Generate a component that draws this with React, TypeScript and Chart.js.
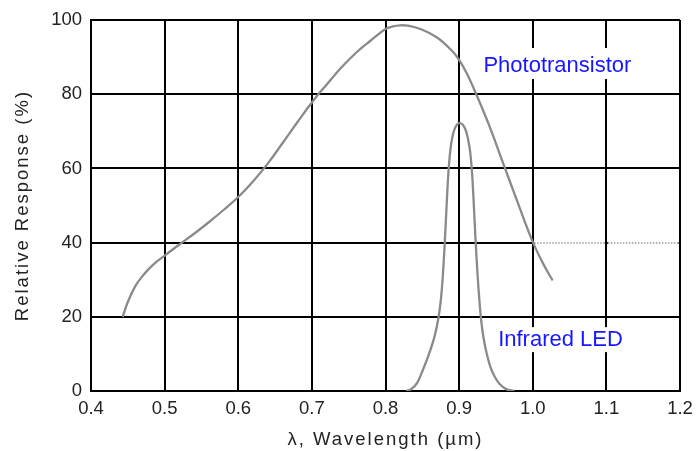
import React, { useEffect, useRef } from 'react';
import { Chart, registerables } from 'chart.js';

Chart.register(...registerables);

// ---- Data ----
const phototransistorX = [0.443, 0.45, 0.46, 0.47, 0.48, 0.49, 0.5, 0.52, 0.54, 0.56, 0.58, 0.6, 0.62, 0.64, 0.66, 0.68, 0.7, 0.72, 0.74, 0.76, 0.78, 0.8, 0.81, 0.82, 0.83, 0.85, 0.87, 0.89, 0.9, 0.91, 0.92, 0.94, 0.96, 0.98, 1.0, 1.015, 1.027];
const phototransistorY = [20, 24, 28.2, 31, 33.2, 35, 36.5, 39.5, 42.4, 45.5, 48.8, 52.3, 56.5, 61.3, 66.8, 72.4, 77.8, 82.6, 87.2, 91.2, 94.5, 97.6, 98.3, 98.6, 98.5, 97.4, 95.3, 91.8, 89.3, 85.8, 81.5, 72, 61.3, 50.6, 40.2, 34, 29.8];

const ledX = [0.828, 0.835, 0.843, 0.851, 0.86, 0.867, 0.872, 0.875, 0.8775, 0.8805, 0.883, 0.8855, 0.888, 0.891, 0.895, 0.9, 0.905, 0.909, 0.912, 0.915, 0.9175, 0.92, 0.9225, 0.925, 0.9275, 0.93, 0.933, 0.937, 0.942, 0.948, 0.955, 0.964, 0.975];
const ledY = [0, 0.5, 2.2, 5.8, 10.5, 15, 19.8, 24.2, 30, 40, 50, 59, 64.8, 68.6, 71.2, 72.2, 71.8, 70.3, 68, 64.5, 59, 50, 40, 31.5, 24.5, 19, 14.5, 10.5, 6.8, 4, 1.9, 0.5, 0];

const xTickValues = [0.4, 0.5, 0.6, 0.7, 0.8, 0.9, 1.0, 1.1, 1.2];
const yTickValues = [0, 20, 40, 60, 80, 100];

const xTitle = 'λ, Wavelength (µm)';
const yTitle = 'Relative Response (%)';

const seriesNames = ['Phototransistor', 'Infrared LED'];
const seriesLabelX = [0.933, 0.953];
const seriesLabelY = [86, 12.1];

// the 40 % grid line is drawn dotted grey between these wavelengths
const dottedGridValue = 40;
const dottedGridFrom = 1.0;
const dottedGridTo = 1.2;

const FONT = '"Liberation Sans", Arial, sans-serif';
const CURVE = '#8a8a8a';

const labelBoxPad = [
  [8, 7],
  [3, 6],
];

const titleSpacingPlugin = {
  id: 'titleSpacing',
  beforeDraw(chart: any) {
    Object.values(chart.scales).forEach((s: any) => {
      if (s.__patched) return;
      const orig = s.drawTitle;
      s.drawTitle = function () {
        const ctx = this.ctx;
        ctx.save();
        ctx.letterSpacing = '2px';
        orig.call(this);
        ctx.restore();
      };
      s.__patched = true;
    });
  },
};

const decorPlugin = {
  id: 'decor',
  beforeDatasetsDraw(chart: any) {
    const { ctx, scales } = chart;
    const x = scales.x;
    const y = scales.y;
    ctx.save();
    // dotted grey segment of the 40% grid line
    const py = Math.round(y.getPixelForValue(dottedGridValue));
    const inner = xTickValues.filter((v) => v >= dottedGridFrom - 1e-9 && v <= dottedGridTo + 1e-9);
    for (let i = 0; i < inner.length - 1; i++) {
      const a = x.getPixelForValue(inner[i]) + 1.5;
      const b = x.getPixelForValue(inner[i + 1]) - 1.5;
      ctx.fillStyle = '#fff';
      ctx.fillRect(a, py - 2, b - a, 4);
      ctx.strokeStyle = '#9a9a9a';
      ctx.lineWidth = 1.5;
      ctx.setLineDash([1.5, 1.5]);
      ctx.beginPath();
      ctx.moveTo(a, py);
      ctx.lineTo(b, py);
      ctx.stroke();
    }
    ctx.setLineDash([]);
    // white boxes behind the series labels
    ctx.font = `22px ${FONT}`;
    seriesNames.forEach((t, i) => {
      const px = x.getPixelForValue(seriesLabelX[i]);
      const pyl = y.getPixelForValue(seriesLabelY[i]);
      const w = ctx.measureText(t).width;
      const [pt, pb] = labelBoxPad[i];
      ctx.fillStyle = '#fff';
      ctx.fillRect(px - 4, pyl - 16 - pt, w + 8, 16 + pt + pb);
    });
    ctx.restore();
  },
  afterDatasetsDraw(chart: any) {
    const { ctx, scales } = chart;
    const x = scales.x;
    const y = scales.y;
    ctx.save();
    ctx.font = `22px ${FONT}`;
    ctx.textAlign = 'left';
    ctx.textBaseline = 'alphabetic';
    ctx.fillStyle = '#1717ff';
    seriesNames.forEach((t, i) => {
      ctx.fillText(t, x.getPixelForValue(seriesLabelX[i]), y.getPixelForValue(seriesLabelY[i]));
    });
    ctx.restore();
  },
};

export default function App() {
  const canvasRef = useRef<HTMLCanvasElement | null>(null);

  useEffect(() => {
    document.body.style.margin = '0';
    const canvas = canvasRef.current;
    if (!canvas) return;
    const chart = new Chart(canvas, {
      type: 'line',
      data: {
        datasets: [
          {
            label: seriesNames[0],
            data: phototransistorX.map((v, i) => ({ x: v, y: phototransistorY[i] })),
            borderColor: CURVE,
            borderWidth: 2.3,
            pointRadius: 0,
            fill: false,
            tension: 0.4,
          },
          {
            label: seriesNames[1],
            data: ledX.map((v, i) => ({ x: v, y: ledY[i] })),
            borderColor: CURVE,
            borderWidth: 2.3,
            pointRadius: 0,
            fill: false,
            tension: 0.4,
          },
        ],
      },
      options: {
        animation: false,
        responsive: false,
        maintainAspectRatio: false,
        layout: { padding: { top: 19, right: 20, left: 0, bottom: 0 } },
        plugins: {
          legend: { display: false },
          tooltip: { enabled: false },
        },
        scales: {
          x: {
            type: 'linear',
            min: 0.4,
            max: 1.2,
            afterBuildTicks: (s: any) => {
              s.ticks = xTickValues.map((v) => ({ value: v }));
            },
            afterFit: (s: any) => {
              s.height = 60;
            },
            grid: { color: '#000', lineWidth: 2, drawTicks: false },
            border: { display: true, color: '#000', width: 2 },
            ticks: {
              padding: 7,
              color: '#222',
              font: { family: FONT, size: 18.5 },
              callback: (v: any) => Number(v).toFixed(1),
              maxRotation: 0,
              autoSkip: false,
            },
            title: {
              display: true,
              text: xTitle,
              color: '#222',
              font: { family: FONT, size: 18.5, lineHeight: 1.2 },
              padding: { top: 0, bottom: 0 },
            },
          },
          y: {
            type: 'linear',
            min: 0,
            max: 100,
            afterBuildTicks: (s: any) => {
              s.ticks = yTickValues.map((v) => ({ value: v }));
            },
            afterFit: (s: any) => {
              s.width = 91;
            },
            grid: { color: '#000', lineWidth: 2, drawTicks: false },
            border: { display: true, color: '#000', width: 2 },
            ticks: {
              padding: 9,
              color: '#222',
              font: { family: FONT, size: 18.5 },
              autoSkip: false,
            },
            title: {
              display: true,
              text: yTitle,
              color: '#222',
              font: { family: FONT, size: 18.5, lineHeight: 1.2 },
              padding: { top: 11.5, bottom: 0 },
            },
          },
        },
      } as any,
      plugins: [titleSpacingPlugin, decorPlugin],
    });
    return () => chart.destroy();
  }, []);

  return (
    <div style={{ width: 700, height: 451, background: '#fff' }}>
      <canvas ref={canvasRef} width={700} height={451} style={{ display: 'block' }} />
    </div>
  );
}
